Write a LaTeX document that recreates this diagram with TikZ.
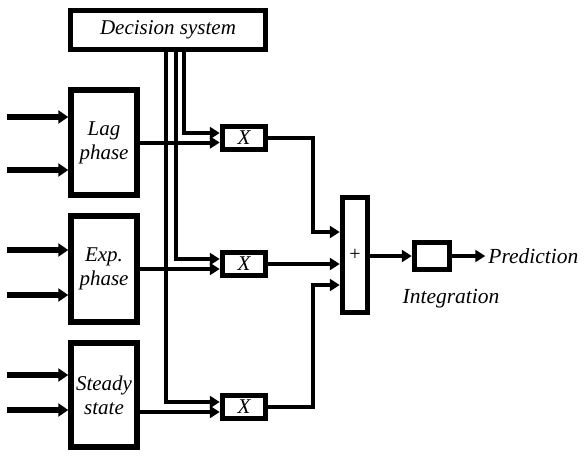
\documentclass[tikz,border=0pt]{standalone}
\usepackage{fontspec}
\setmainfont{Liberation Serif}
\usepackage{tikz}
\usetikzlibrary{arrows.meta,positioning,calc}

\begin{document}
\begin{tikzpicture}[x=1pt,y=-1pt,
    blk/.style={draw, line width=5.5pt, inner sep=0pt, align=center,
        font=\fontsize{21}{24}\selectfont\itshape},
    feed/.style={line width=6pt, -{Triangle[length=10pt,width=13pt]}},
    sig/.style={line width=4pt, -{Triangle[length=10pt,width=12pt]}},
    lbl/.style={inner sep=3pt, font=\fontsize{21.5}{24}\selectfont\itshape}]
    \useasboundingbox (0,0) rectangle (585,455);

    % Decision system
    \node[blk, minimum width=195pt, minimum height=39pt] (dec) at (168,30) {Decision system};

    % Phase blocks
    \node[blk, minimum width=66pt, minimum height=105pt] (lag) at (104,142.5) {Lag\\phase};
    \node[blk, minimum width=66pt, minimum height=106pt] (exp) at (104,269) {Exp.\\phase};
    \node[blk, minimum width=66pt, minimum height=104pt] (steady) at (104,395) {Steady\\state};

    % Multipliers
    \node[blk, minimum width=43pt, minimum height=23pt] (x1) at (244,138) {X};
    \node[blk, minimum width=43pt, minimum height=23pt] (x2) at (244,264) {X};
    \node[blk, minimum width=43pt, minimum height=23pt] (x3) at (244,407) {X};

    % Sum and integration
    \node[blk, minimum width=25pt, minimum height=115pt,
        font=\fontsize{20}{22}\selectfont] (sum) at (355,255) {+};
    \node[blk, minimum width=35pt, minimum height=27pt] (integ) at (432,256) {};
    \node[lbl, below=14pt of integ, xshift=19pt] (integlbl) {Integration};
    \node[lbl, right=33pt of integ] (pred) {Prediction};

    % Inputs
    \foreach \y in {117,170} {
        \coordinate (in\y) at (7,\y);
        \draw[feed] (in\y) -- (in\y -| lag.west);
    }
    \foreach \y in {250,295} {
        \coordinate (in\y) at (7,\y);
        \draw[feed] (in\y) -- (in\y -| exp.west);
    }
    \foreach \y in {375,410} {
        \coordinate (in\y) at (7,\y);
        \draw[feed] (in\y) -- (in\y -| steady.west);
    }

    % Phase outputs
    \draw[sig] (lag.east) -- (lag.east -| x1.west);
    \draw[sig] (exp.east) -- (exp.east -| x2.west);
    \coordinate (sout) at ($(steady.east)+(0,17)$);
    \draw[sig] (sout) -- (sout -| x3.west);

    % Decision bus
    \coordinate (d1) at (dec.south -| 184,0);
    \coordinate (d2) at (dec.south -| 176,0);
    \coordinate (d3) at (dec.south -| 166,0);
    \draw[sig] (d1) |- ([yshift=5pt]x1.west);
    \draw[sig] (d2) |- ([yshift=5pt]x2.west);
    \draw[sig] (d3) |- ([yshift=5pt]x3.west);

    % To the sum
    \coordinate (j1) at (313,232);
    \coordinate (j3) at (313,285);
    \draw[sig] (x1.east) -| (j1) -- (j1 -| sum.west);
    \draw[sig] (x2.east) -- (x2.east -| sum.west);
    \draw[sig] (x3.east) -| (j3) -- (j3 -| sum.west);

    % Output
    \draw[sig] (sum.east |- integ.west) -- (integ.west);
    \draw[sig] (integ.east) -- (pred.west);
\end{tikzpicture}
\end{document}
